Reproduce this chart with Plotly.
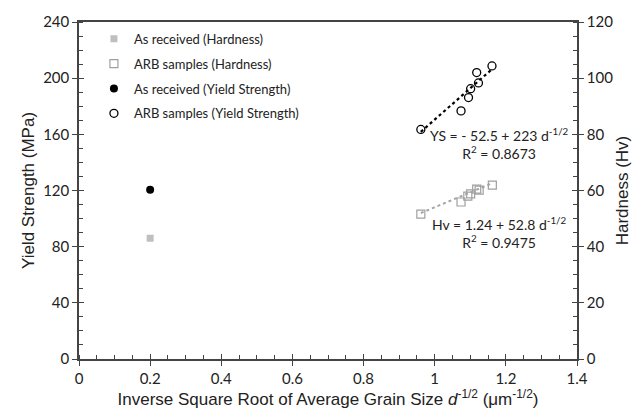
import numpy as np
import plotly.graph_objects as go

# Data
as_rec_x = [0.2]
as_rec_hv = [43.0]
as_rec_ys = [120.5]

arb_x_ys = [0.961, 1.074, 1.095, 1.101, 1.118, 1.123, 1.161]
arb_ys = [163.5, 176.7, 186.2, 192.5, 204.0, 196.6, 208.7]

arb_x_hv = [0.961, 1.074, 1.093, 1.101, 1.118, 1.125, 1.162]
arb_hv = [51.6, 55.9, 58.0, 58.8, 60.5, 60.1, 61.9]

ys_fit = [-52.5, 223.0]   # intercept, slope
hv_fit = [1.24, 52.8]
ys_r2 = "0.8673"
hv_r2 = "0.9475"

x_ticks = [0, 0.2, 0.4, 0.6, 0.8, 1, 1.2, 1.4]
x_tick_text = ["0", "0.2", "0.4", "0.6", "0.8", "1", "1.2", "1.4"]

TICKFONT = dict(family="Lato", size=15, color="#222")
TITLEFONT = dict(family="Liberation Sans", size=17, color="#222")
AX = "#444"

fig = go.Figure()

fx = np.linspace(min(arb_x_ys), max(arb_x_ys), 30)
fig.add_trace(go.Scatter(x=fx, y=ys_fit[0] + ys_fit[1] * fx, mode="lines",
                         line=dict(color="black", width=2.2, dash="dot"),
                         showlegend=False, hoverinfo="skip"))
fxh = np.linspace(min(arb_x_hv), max(arb_x_hv), 30)
fig.add_trace(go.Scatter(x=fxh, y=hv_fit[0] + hv_fit[1] * fxh, mode="lines",
                         line=dict(color="#a6a6a6", width=2, dash="dot"),
                         showlegend=False, hoverinfo="skip", yaxis="y2"))

fig.add_trace(go.Scatter(x=as_rec_x, y=as_rec_hv, mode="markers", yaxis="y2",
                         name="As received (Hardness)", legendgroup="a",
                         marker=dict(symbol="square", size=7, color="#bfbfbf",
                                     line=dict(width=0))))
fig.add_trace(go.Scatter(x=arb_x_hv, y=arb_hv, mode="markers", yaxis="y2",
                         name="ARB samples (Hardness)", legendgroup="b",
                         marker=dict(symbol="square-open", size=8, color="#a0a0a0",
                                     line=dict(width=1.2))))
fig.add_trace(go.Scatter(x=as_rec_x, y=as_rec_ys, mode="markers",
                         name="As received (Yield Strength)", legendgroup="c",
                         marker=dict(symbol="circle", size=8, color="black")))
fig.add_trace(go.Scatter(x=arb_x_ys, y=arb_ys, mode="markers",
                         name="ARB samples (Yield Strength)", legendgroup="d",
                         marker=dict(symbol="circle-open", size=8, color="black",
                                     line=dict(width=1.3))))

# invisible traces to activate overlay axes for crossing major ticks
fig.add_trace(go.Scatter(x=[0], y=[0], xaxis="x2", yaxis="y3", mode="markers",
                         marker=dict(opacity=0), showlegend=False, hoverinfo="skip"))
fig.add_trace(go.Scatter(x=[0], y=[0], xaxis="x2", yaxis="y4", mode="markers",
                         marker=dict(opacity=0), showlegend=False, hoverinfo="skip"))

fig.update_layout(
    width=644, height=417,
    margin=dict(l=79, r=67, t=15, b=57),
    plot_bgcolor="white", paper_bgcolor="white",
    font=TICKFONT,
    xaxis=dict(range=[0, 1.4], tickvals=x_ticks, ticktext=x_tick_text,
               showgrid=False, zeroline=False, showline=True, linecolor=AX,
               linewidth=1.5, mirror=True, ticks="outside", ticklen=5, tickwidth=1.3,
               tickcolor=AX, tickfont=TICKFONT,
               minor=dict(dtick=0.05, ticks="inside", ticklen=4, tickcolor=AX,
                          tickwidth=1.2, showgrid=False),
               title=dict(text="Inverse Square Root of Average Grain Size <i>d</i><sup>-1/2</sup> (μm<sup>-1/2</sup>)",
                          font=TITLEFONT, standoff=6)),
    yaxis=dict(range=[0, 240], dtick=40, showgrid=False, zeroline=False,
               showline=True, linecolor=AX, linewidth=1.5, ticks="outside",
               ticklen=5, tickwidth=1.3, tickcolor=AX, tickfont=TICKFONT,
               minor=dict(dtick=10, ticks="inside", ticklen=4, tickcolor=AX,
                          tickwidth=1.2, showgrid=False),
               title=dict(text="Yield Strength (MPa)", font=TITLEFONT, standoff=4)),
    yaxis2=dict(range=[0, 120], dtick=20, overlaying="y", side="right",
                showgrid=False, zeroline=False, showline=True, linecolor=AX,
                linewidth=1.5, ticks="outside", ticklen=5, tickwidth=1.3,
                tickcolor=AX, tickfont=TICKFONT,
                minor=dict(dtick=5, ticks="inside", ticklen=4, tickcolor=AX,
                           tickwidth=1.2, showgrid=False),
                title=dict(text="Hardness (Hv)", font=TITLEFONT, standoff=4)),
    xaxis2=dict(range=[0, 1.4], overlaying="x", tickvals=x_ticks, showticklabels=False,
                showgrid=False, zeroline=False, showline=False, ticks="inside",
                ticklen=5, tickwidth=1.3, tickcolor=AX, side="bottom"),
    yaxis3=dict(range=[0, 240], dtick=40, overlaying="y", showticklabels=False,
                showgrid=False, zeroline=False, showline=False, ticks="inside",
                ticklen=5, tickwidth=1.3, tickcolor=AX, side="left"),
    yaxis4=dict(range=[0, 120], dtick=20, overlaying="y", showticklabels=False,
                showgrid=False, zeroline=False, showline=False, ticks="inside",
                ticklen=5, tickwidth=1.3, tickcolor=AX, side="right"),
    legend=dict(x=0.03, y=0.995, xanchor="left", yanchor="top",
                font=dict(family="Lato", size=13, color="#222"),
                bgcolor="rgba(0,0,0,0)", tracegroupgap=5, itemwidth=30),
    showlegend=True,
)

ann_font = dict(family="Lato", size=14, color="#222")
fig.add_annotation(x=1.183, y=153.7, xref="x", yref="y", showarrow=False, font=ann_font,
                   align="center",
                   text=f"YS = - {abs(ys_fit[0])} + {ys_fit[1]:g} d<sup>-1/2</sup><br>R<sup>2</sup> = {ys_r2}")
fig.add_annotation(x=1.183, y=45.0, xref="x", yref="y2", showarrow=False, font=ann_font,
                   align="center",
                   text=f"Hv = {hv_fit[0]} + {hv_fit[1]} d<sup>-1/2</sup><br>R<sup>2</sup> = {hv_r2}")

fig.write_html("out.html")
